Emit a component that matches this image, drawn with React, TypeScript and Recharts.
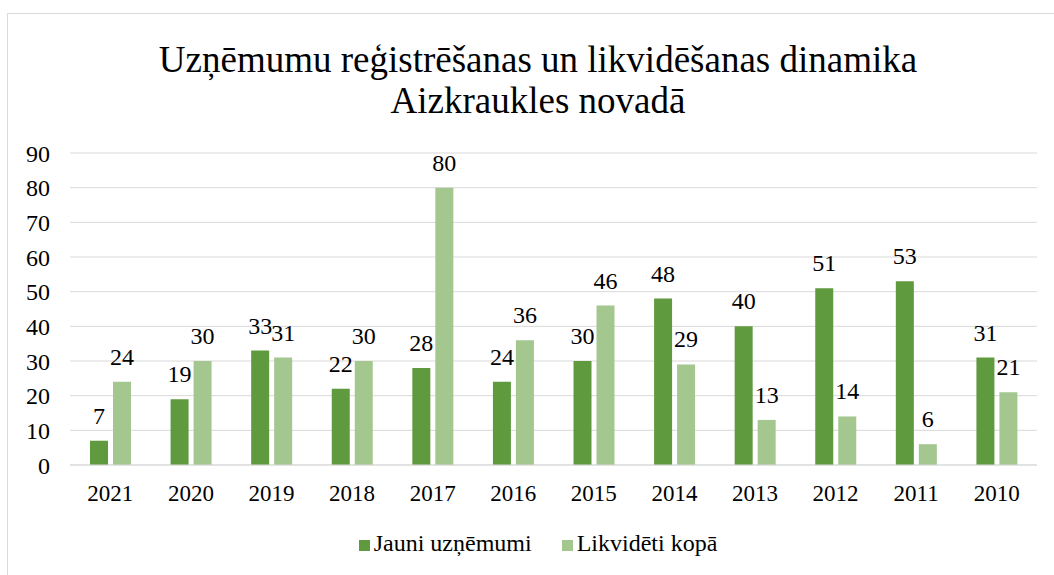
import { BarChart, Bar, XAxis, YAxis, CartesianGrid, Legend, LabelList } from "recharts";

const years = ["2021", "2020", "2019", "2018", "2017", "2016", "2015", "2014", "2013", "2012", "2011", "2010"];
const jauni = [7, 19, 33, 22, 28, 24, 30, 48, 40, 51, 53, 31];
const likvideti = [24, 30, 31, 30, 80, 36, 46, 29, 13, 14, 6, 21];
const yTicks = [0, 10, 20, 30, 40, 50, 60, 70, 80, 90];

const data = years.map((y, i) => ({ year: y, jauni: jauni[i], likvideti: likvideti[i] }));

const font = "Liberation Serif";

export default function App() {
  return (
    <div style={{ position: "absolute", left: 0, top: 0, width: 1054, height: 575, background: "#fff", fontFamily: font }}>
      <div style={{ position: "absolute", left: 7, top: 13, width: 1060, height: 600, border: "1px solid #d9d9d9" }} />
      <div style={{ position: "absolute", left: 0, top: 39, width: 1076, textAlign: "center", fontSize: 37, lineHeight: "41px", color: "#000", fontFamily: font }}>
        Uzņēmumu reģistrēšanas un likvidēšanas dinamika
        <br />
        Aizkraukles novadā
      </div>
      <BarChart
        width={1054}
        height={575}
        data={data}
        margin={{ top: 153, right: 17, left: 8, bottom: 53 }}
        barGap={5}
        barSize={18}
        style={{ position: "absolute", left: 0, top: 0 }}
      >
        <CartesianGrid vertical={false} stroke="#d9d9d9" />
        <XAxis
          dataKey="year"
          stroke="#d9d9d9"
          tickLine={false}
          tick={{ fontSize: 23, fill: "#000", fontFamily: font }}
          tickMargin={14}
          height={30}
        />
        <YAxis
          domain={[0, 90]}
          ticks={yTicks}
          interval={0}
          width={62}
          axisLine={false}
          tickLine={false}
          tick={{ fontSize: 24, fill: "#000", fontFamily: font }}
          tickMargin={14}
        />
        <Legend
          verticalAlign="bottom"
          iconType="square"
          iconSize={11}
          wrapperStyle={{ top: 530, left: 32, width: 1022, fontSize: 24, fontFamily: font, color: "#000" }}
          formatter={(v, _e, i) => (
            <span style={{ color: "#000", fontFamily: font, marginRight: i === 0 ? 20 : 0 }}>{v}</span>
          )}
        />
        <Bar dataKey="jauni" name="Jauni uzņēmumi" fill="#5f9a3e" isAnimationActive={false}>
          <LabelList dataKey="jauni" position="top" offset={17} style={{ fontSize: 24, fill: "#000", fontFamily: font }} />
        </Bar>
        <Bar dataKey="likvideti" name="Likvidēti kopā" fill="#a3c78f" isAnimationActive={false}>
          <LabelList dataKey="likvideti" position="top" offset={17} style={{ fontSize: 24, fill: "#000", fontFamily: font }} />
        </Bar>
      </BarChart>
    </div>
  );
}
